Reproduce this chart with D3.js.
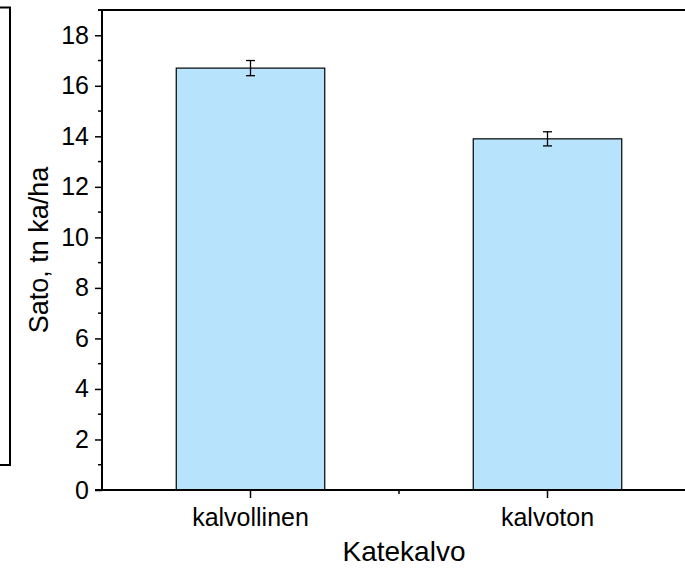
<!DOCTYPE html>
<html>
<head>
<meta charset="utf-8">
<script src="https://cdn.jsdelivr.net/npm/d3@7"></script>
<style>
  html, body { margin: 0; padding: 0; background: #fff; }
  svg { display: block; }
  text { font-family: Arial, "Liberation Sans", sans-serif; fill: #000; }
</style>
</head>
<body>
<script>
// Yield by mulch treatment (mean ± error)
const categories = ["kalvollinen", "kalvoton"];
const yieldMeans = [16.7, 13.9];
const yieldErrors = [0.3, 0.28];
const yTickValues = [0, 2, 4, 6, 8, 10, 12, 14, 16, 18];
const yTitle = "Sato, tn ka/ha";
const xTitle = "Katekalvo";

const W = 685, H = 568;
const svg = d3.select("body").append("svg").attr("width", W).attr("height", H);

const plotLeft = 102, plotRight = 696, plotTop = 10, plotBottom = 490;

const x = d3.scaleBand().domain(categories).range([plotLeft, plotRight])
  .paddingInner(0.5).paddingOuter(0.25);
const y = d3.scaleLinear().domain([0, 19]).range([plotBottom, plotTop]);

// partial legend frame at the left edge
svg.append("path")
  .attr("d", `M-5,7.5 H10 V465 H-5`)
  .attr("fill", "none").attr("stroke", "#000").attr("stroke-width", 2);

// bars
svg.append("g").selectAll("rect").data(categories).join("rect")
  .attr("x", d => x(d))
  .attr("y", (d, i) => y(yieldMeans[i]))
  .attr("width", x.bandwidth())
  .attr("height", (d, i) => y(0) - y(yieldMeans[i]))
  .attr("fill", "#b8e3fd")
  .attr("stroke", "#000").attr("stroke-width", 1.2);

// error bars
const eb = svg.append("g").attr("stroke", "#000").attr("stroke-width", 1.3);
categories.forEach((c, i) => {
  const cx = x(c) + x.bandwidth() / 2;
  const y1 = y(yieldMeans[i] + yieldErrors[i]);
  const y2 = y(yieldMeans[i] - yieldErrors[i]);
  eb.append("line").attr("x1", cx).attr("x2", cx).attr("y1", y1).attr("y2", y2);
  eb.append("line").attr("x1", cx - 4.5).attr("x2", cx + 4.5).attr("y1", y1).attr("y2", y1);
  eb.append("line").attr("x1", cx - 4.5).attr("x2", cx + 4.5).attr("y1", y2).attr("y2", y2);
});

// top frame line
svg.append("line").attr("x1", plotLeft - 4).attr("x2", W + 20)
  .attr("y1", plotTop).attr("y2", plotTop)
  .attr("stroke", "#000").attr("stroke-width", 2);

// y axis
const yAxis = d3.axisLeft(y).tickValues(yTickValues).tickSize(7).tickPadding(6)
  .tickFormat(d3.format("d"));
const gy = svg.append("g").attr("transform", `translate(${plotLeft},0)`).call(yAxis);
gy.select(".domain").attr("d", `M0,${plotTop}V${plotBottom}`).attr("stroke-width", 2);
gy.selectAll(".tick line").attr("stroke-width", 1.5);
gy.selectAll(".tick text").attr("font-size", 25).attr("font-family", "Arial, 'Liberation Sans', sans-serif");
const yMinor = d3.range(1, 19, 2);
gy.selectAll(".minor").data(yMinor).join("line").attr("class", "minor")
  .attr("x1", -4).attr("x2", 0).attr("y1", d => y(d)).attr("y2", d => y(d))
  .attr("stroke", "#000").attr("stroke-width", 1.5);

// x axis
const xAxis = d3.axisBottom(x).tickSize(8).tickPadding(10);
const gx = svg.append("g").attr("transform", `translate(0,${plotBottom})`).call(xAxis);
gx.select(".domain").attr("d", `M${plotLeft - 7},0H${W + 20}`).attr("stroke-width", 2);
gx.selectAll(".tick line").attr("stroke-width", 1.5);
gx.selectAll(".tick text").attr("font-size", 25).attr("font-family", "Arial, 'Liberation Sans', sans-serif");
const xMid = (x(categories[0]) + x(categories[1]) + x.bandwidth()) / 2;
gx.append("line").attr("x1", xMid).attr("x2", xMid).attr("y1", 0).attr("y2", 4)
  .attr("stroke", "#000").attr("stroke-width", 1.5);

// axis titles
svg.append("text")
  .attr("transform", `translate(48,${(plotTop + plotBottom) / 2}) rotate(-90)`)
  .attr("text-anchor", "middle").attr("font-size", 27)
  .text(yTitle);
svg.append("text")
  .attr("x", xMid + 5).attr("y", 561)
  .attr("text-anchor", "middle").attr("font-size", 28)
  .text(xTitle);
</script>
</body>
</html>
